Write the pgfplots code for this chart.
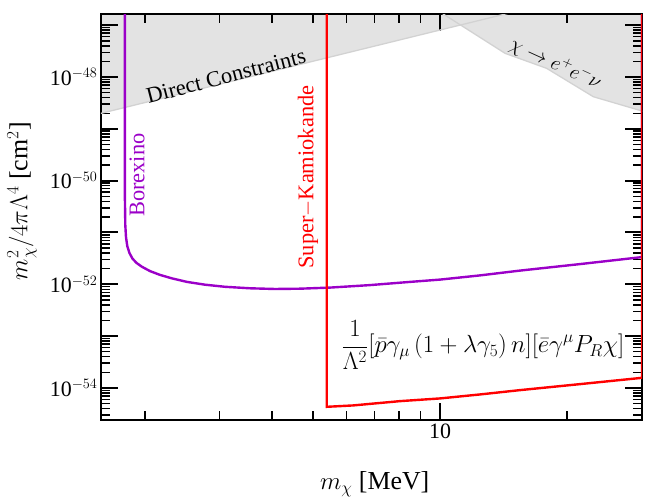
\documentclass[border=0pt]{standalone}
\usepackage{fontspec}
\setmainfont{Liberation Serif}
\usepackage{pgfplots}
\pgfplotsset{compat=1.18}
\definecolor{bxpurple}{RGB}{155,0,200}
\definecolor{skred}{RGB}{255,0,0}
\definecolor{shadeedge}{RGB}{210,210,210}
\begin{document}
\begin{tikzpicture}
\begin{axis}[
 xmode=log, ymode=log,
 scale only axis, width=541bp, height=406bp,
 xmin=1.573, xmax=30.1, ymin=2.4e-55, ymax=1.644e-47,
 xtick={10}, xticklabels={10},
 minor xtick={2,3,4,5,6,7,8,9,20,30},
 ytick={1e-54,1e-53,1e-52,1e-51,1e-50,1e-49,1e-48,1e-47},
 yticklabels={10$^{-54}$,,10$^{-52}$,,10$^{-50}$,,10$^{-48}$,},
 minor ytick={2e-55,3e-55,4e-55,5e-55,6e-55,7e-55,8e-55,9e-55,
   2e-54,3e-54,4e-54,5e-54,6e-54,7e-54,8e-54,9e-54,
   2e-53,3e-53,4e-53,5e-53,6e-53,7e-53,8e-53,9e-53,
   2e-52,3e-52,4e-52,5e-52,6e-52,7e-52,8e-52,9e-52,
   2e-51,3e-51,4e-51,5e-51,6e-51,7e-51,8e-51,9e-51,
   2e-50,3e-50,4e-50,5e-50,6e-50,7e-50,8e-50,9e-50,
   2e-49,3e-49,4e-49,5e-49,6e-49,7e-49,8e-49,9e-49,
   2e-48,3e-48,4e-48,5e-48,6e-48,7e-48,8e-48,9e-48},
 tick align=inside, xtick pos=both, ytick pos=both,
 major tick length=17bp, minor tick length=9bp,
 major tick style={line width=2bp, black},
 minor tick style={line width=1.5bp, black},
 axis line style={line width=1.8bp, black},
 tick label style={font=\fontsize{22}{26}\selectfont},
 xlabel={$m_\chi$ [MeV]},
 ylabel={$m_\chi^2/4\pi\Lambda^4$ [cm$^2$]},
 xlabel style={font=\fontsize{26}{30}\selectfont, at={(axis description cs:0.506,-0.158)}, anchor=center},
 ylabel style={font=\fontsize{26}{30}\selectfont, at={(axis description cs:-0.146,0.539)}, anchor=center},
]
% shaded excluded regions (union of Direct Constraints and chi -> e+ e- nu)
\addplot[fill=black, fill opacity=0.11, draw=none] coordinates {
 (1.413,1.607e-49) (11.18,1.012e-47) (14.26,2.867e-48) (17.89,1.472e-48)
 (23.08,4.169e-49) (31.97,1.914e-49) (31.97,1e-46) (1.413,1e-46)} -- cycle;
% region edges
\addplot[shadeedge, line width=1.3bp] coordinates {
 (1.413,1.607e-49) (15.85,2.03e-47)};
\addplot[shadeedge, line width=1.3bp] coordinates {
 (8.29,4.79e-47) (10.18,1.644e-47) (14.26,2.867e-48) (17.89,1.472e-48)
 (23.08,4.169e-49) (31.97,1.914e-49)};
% Borexino
\addplot[bxpurple, line width=2.4bp] coordinates {
 (1.792,3.2e-47) (1.7925,4.222e-51) (1.7960,1.390e-51) (1.8029,8.150e-52)
 (1.8155,5.465e-52) (1.8375,4.002e-52) (1.8678,3.134e-52) (1.9090,2.588e-52)
 (1.9672,2.177e-52) (2.0551,1.798e-52) (2.1704,1.518e-52) (2.3173,1.300e-52)
 (2.5146,1.112e-52) (2.7743,9.824e-53) (3.0940,8.947e-53) (3.5466,8.372e-53)
 (4.0644,8.116e-53) (4.6585,8.225e-53) (5.4876,8.636e-53) (6.8268,9.651e-53)
 (8.4907,1.112e-52) (10,1.232e-52) (12.442,1.485e-52) (15.470,1.838e-52)
 (21.463,2.455e-52) (30.11,3.350e-52) (30.11,3.2e-47)};
% Super-Kamiokande
\addplot[skred, line width=2.4bp] coordinates {
 (5.3898,3.2e-47) (5.3898,4.32e-55) (6.2224,4.592e-55) (8.0386,5.560e-55)
 (10,6.270e-55) (12.442,7.487e-55) (15.470,9.068e-55) (21.463,1.184e-54)
 (30.11,1.567e-54) (30.11,3.2e-47)};
\node[rotate=14.5, font=\fontsize{22.5}{26}\selectfont] at (axis cs:3.111,1.045e-48) {Direct Constraints};
\node[rotate=-24.5, font=\fontsize{22}{26}\selectfont] at (axis cs:18.8,1.80e-48) {$\chi\rightarrow e^{+}e^{-}\nu$};
\node[rotate=90, text=bxpurple, font=\fontsize{22.5}{26}\selectfont] at (axis cs:1.914,1.282e-50) {Borexino};
\node[rotate=90, text=skred, font=\fontsize{22.5}{26}\selectfont] at (axis cs:4.866,1.172e-50) {Super$-$Kamiokande};
\node[font=\fontsize{23.5}{27}\selectfont] at (axis cs:12.64,6.70e-54) {$\displaystyle\frac{1}{\Lambda^2}[\bar{p}\gamma_\mu\,(1+\lambda\gamma_5)\,n][\bar{e}\gamma^\mu P_R\chi]$};
\end{axis}
\path (current axis.south west) ++(-101bp,-79bp);
\path (current axis.north east) ++(6bp,14bp);
\end{tikzpicture}
\end{document}
